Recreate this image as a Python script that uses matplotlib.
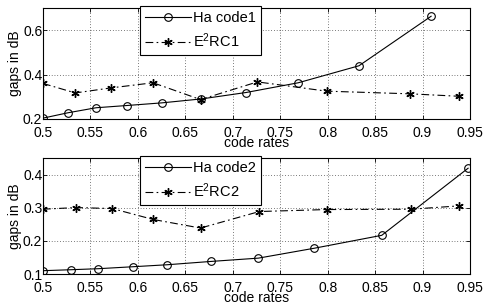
import matplotlib
matplotlib.use("Agg")
import matplotlib.pyplot as plt

plt.rcParams['font.family'] = ['Liberation Sans', 'DejaVu Sans']
plt.rcParams['mathtext.default'] = 'regular'
plt.rcParams['font.size'] = 10

# Top panel data
ha1_x = [0.5, 0.526, 0.556, 0.588, 0.625, 0.667, 0.714, 0.769, 0.833, 0.909]
ha1_y = [0.203, 0.227, 0.250, 0.260, 0.272, 0.290, 0.319, 0.363, 0.440, 0.664]
e2_1_x = [0.5, 0.534, 0.572, 0.616, 0.666, 0.726, 0.799, 0.887, 0.938]
e2_1_y = [0.360, 0.317, 0.340, 0.363, 0.287, 0.367, 0.325, 0.313, 0.302]

# Bottom panel data
ha2_x = [0.5, 0.53, 0.558, 0.595, 0.631, 0.677, 0.727, 0.786, 0.857, 0.948]
ha2_y = [0.110, 0.113, 0.116, 0.122, 0.128, 0.138, 0.148, 0.178, 0.217, 0.420]
e2_2_x = [0.5, 0.535, 0.573, 0.616, 0.666, 0.728, 0.799, 0.888, 0.938]
e2_2_y = [0.296, 0.301, 0.298, 0.265, 0.239, 0.289, 0.295, 0.296, 0.306]

xticks = [0.5, 0.55, 0.6, 0.65, 0.7, 0.75, 0.8, 0.85, 0.9, 0.95]
xticklabels = ['0.5', '0.55', '0.6', '0.65', '0.7', '0.75', '0.8', '0.85', '0.9', '0.95']
yticks_top = [0.2, 0.4, 0.6]
yticks_bot = [0.1, 0.2, 0.3, 0.4]

W, H = 484, 308
fig = plt.figure(figsize=(W / 100, H / 100), dpi=100)

def px_axes(l, t, r, b):
    return fig.add_axes([l / W, 1 - b / H, (r - l) / W, (b - t) / H])

ax1 = px_axes(43, 8.3, 470, 118.8)
ax2 = px_axes(43, 158.3, 470, 274)

panels = [
    (ax1, ha1_x, ha1_y, e2_1_x, e2_1_y, 'Ha code1', 'E$^2$RC1', (0.2, 0.7), yticks_top, 6),
    (ax2, ha2_x, ha2_y, e2_2_x, e2_2_y, 'Ha code2', 'E$^2$RC2', (0.1, 0.45), yticks_bot, 156),
]

for ax, hx, hy, ex, ey, lh, le, ylim, yt, legtop in panels:
    ax.plot(hx, hy, '-', color='black', lw=0.8, marker='o', ms=5.5,
            mfc='none', mec='black', mew=0.8, label=lh)
    ax.plot(ex, ey, linestyle=(0, (7, 3, 1.5, 3)), color='black', lw=0.8,
            marker=(6, 2, 0), ms=6, mec='black', mew=1.0, label=le)
    ax.set_xlim(0.5, 0.95)
    ax.set_ylim(*ylim)
    ax.set_xticks(xticks)
    ax.set_xticklabels(xticklabels)
    ax.set_yticks(yt)
    ax.set_yticklabels([f'{v:g}' for v in yt])
    ax.grid(True, color='black', linestyle=(0, (1, 3)), linewidth=0.5)
    ax.tick_params(direction='in', top=True, right=True, length=3,
                   width=0.6, labelsize=10)
    ax.tick_params(axis='x', pad=5)
    ax.tick_params(axis='y', pad=0.5)
    for s in ax.spines.values():
        s.set_linewidth(0.8)
    ax.set_xlabel('code rates', fontsize=10, labelpad=-3)
    ax.set_ylabel('gaps in dB', fontsize=10, labelpad=1)
    leg = ax.legend(loc='upper left', bbox_to_anchor=(140 / W, 1 - legtop / H),
                    bbox_transform=fig.transFigure, borderaxespad=0,
                    fancybox=False, framealpha=1, edgecolor='black',
                    handlelength=3.15, labelspacing=0.42, fontsize=10.5,
                    borderpad=0.35, handletextpad=0.14)
    leg.get_frame().set_linewidth(0.8)

fig.savefig('out.png', dpi=100)
